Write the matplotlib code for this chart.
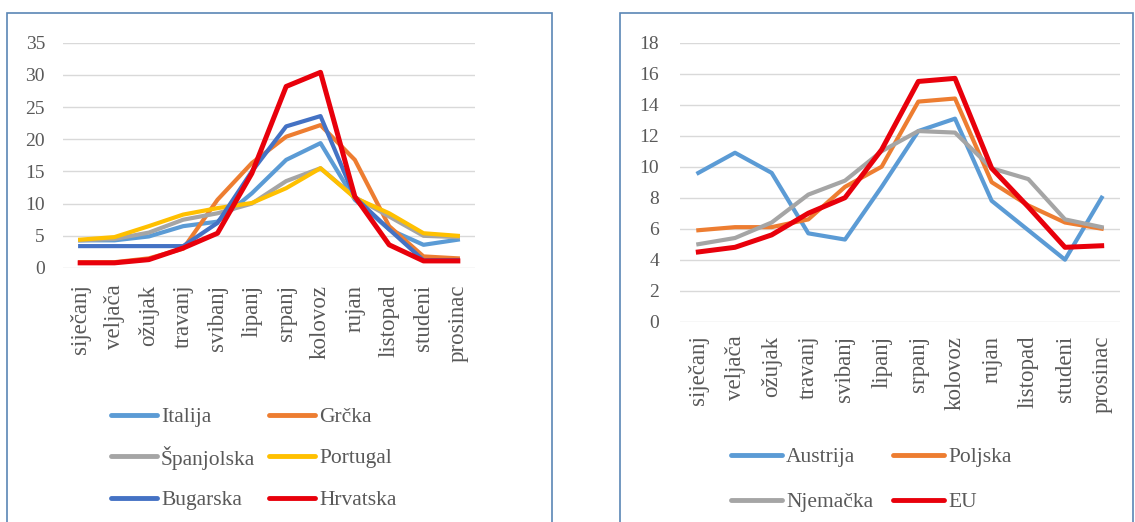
import matplotlib.pyplot as plt
from matplotlib.patches import Rectangle
from matplotlib.lines import Line2D

# ====================
# DATA
# ====================

months = ['siječanj', 'veljača', 'ožujak', 'travanj', 'svibanj', 'lipanj',
          'srpanj', 'kolovoz', 'rujan', 'listopad', 'studeni', 'prosinac']

# left chart
italija = [4.3, 4.3, 4.9, 6.5, 7.2, 11.6, 16.8, 19.4, 10.6, 6.0, 3.6, 4.4]
grcka = [0.9, 0.9, 1.5, 3.0, 10.6, 16.3, 20.4, 22.2, 16.8, 6.5, 1.8, 1.5]
spanjolska = [4.3, 4.5, 5.5, 7.5, 8.5, 10.0, 13.5, 15.5, 11.0, 8.0, 5.0, 4.8]
portugal = [4.4, 4.8, 6.5, 8.3, 9.3, 10.1, 12.4, 15.5, 10.9, 8.5, 5.4, 5.0]
bugarska = [3.4, 3.4, 3.4, 3.4, 7.0, 15.0, 22.0, 23.6, 11.0, 6.0, 1.2, 1.2]
hrvatska = [0.8, 0.8, 1.3, 3.1, 5.4, 14.7, 28.2, 30.4, 11.1, 3.6, 1.1, 1.1]

# right chart
austrija = [9.6, 10.9, 9.6, 5.7, 5.3, 8.7, 12.3, 13.1, 7.8, 5.9, 4.0, 8.0]
poljska = [5.9, 6.1, 6.1, 6.6, 8.7, 10.0, 14.2, 14.4, 9.0, 7.5, 6.4, 6.0]
njemacka = [5.0, 5.4, 6.4, 8.2, 9.1, 11.0, 12.3, 12.2, 9.9, 9.2, 6.6, 6.1]
eu = [4.5, 4.8, 5.6, 7.0, 8.0, 11.1, 15.5, 15.7, 9.9, 7.4, 4.8, 4.9]

BLUE = '#5B9BD5'
ORANGE = '#ED7D31'
GRAY = '#A5A5A5'
YELLOW = '#FFC000'
DBLUE = '#4472C4'
RED = '#E8000B'
TXT = '#595959'

plt.rcParams['font.family'] = ['Liberation Serif', 'DejaVu Serif']

W, H = 1135, 522
fig = plt.figure(figsize=(W / 100, H / 100), dpi=100)


def px_axes(x0, x1, ytop, ybot):
    return fig.add_axes([x0 / W, 1 - ybot / H, (x1 - x0) / W, (ybot - ytop) / H])


def style_axes(ax, ymax, step, xpad, ypad):
    ax.set_xlim(-0.5, len(months) - 0.5)
    ax.set_ylim(0, ymax)
    ax.set_yticks(range(0, ymax + 1, step))
    ax.set_xticks(range(len(months)))
    ax.set_xticklabels(months, rotation=90)
    for s in ax.spines.values():
        s.set_visible(False)
    ax.tick_params(axis='both', length=0, colors=TXT)
    ax.tick_params(axis='y', pad=ypad, labelsize=14)
    ax.tick_params(axis='x', pad=xpad, labelsize=16.5)
    ax.grid(axis='y', color='#D9D9D9', linewidth=1)
    ax.set_axisbelow(True)


def manual_legend(lines, rows_y, cols_x, line_len):
    # entries go row by row, two per row, like Excel does it
    for i, ln in enumerate(lines):
        y = 1 - rows_y[i // 2] / H
        x0 = cols_x[i % 2]
        fig.add_artist(Line2D([x0 / W, (x0 + line_len) / W], [y, y],
                              color=ln.get_color(), lw=3.5,
                              solid_capstyle='round'))
        fig.text((x0 + line_len + 4) / W, y, ln.get_label(), color=TXT,
                 fontsize=15.5, va='center_baseline', ha='left')


# panel borders
fig.patches.append(Rectangle((7 / W, -0.05), 545 / W, 1 - 13 / H + 0.05,
                             transform=fig.transFigure, fill=False,
                             edgecolor='#5A86B5', linewidth=1.2))
fig.patches.append(Rectangle((620 / W, -0.05), 513 / W, 1 - 13 / H + 0.05,
                             transform=fig.transFigure, fill=False,
                             edgecolor='#5A86B5', linewidth=1.2))

# ====================
# LEFT CHART
# ====================
ax1 = px_axes(63, 475, 42.7, 268)
style_axes(ax1, 35, 5, 12, 13)
x = range(len(months))
lw = 3.0
ax1.plot(x, italija, color=BLUE, lw=lw, label='Italija')
ax1.plot(x, grcka, color=ORANGE, lw=lw, label='Grčka')
ax1.plot(x, spanjolska, color=GRAY, lw=lw, label='Španjolska')
ax1.plot(x, portugal, color=YELLOW, lw=lw, label='Portugal')
ax1.plot(x, bugarska, color=DBLUE, lw=lw, label='Bugarska')
ax1.plot(x, hrvatska, color=RED, lw=3.6, label='Hrvatska')

manual_legend(ax1.get_lines(), [415, 456, 498], [111, 269], 46)

# ====================
# RIGHT CHART
# ====================
ax2 = px_axes(680, 1120, 42.7, 321.7)
style_axes(ax2, 18, 2, 10, 15)
ax2.plot(x, austrija, color=BLUE, lw=lw, label='Austrija')
ax2.plot(x, poljska, color=ORANGE, lw=lw, label='Poljska')
ax2.plot(x, njemacka, color=GRAY, lw=lw, label='Njemačka')
ax2.plot(x, eu, color=RED, lw=3.6, label='EU')

manual_legend(ax2.get_lines(), [455, 500], [731, 893], 51)

plt.savefig('out.png', dpi=100)
